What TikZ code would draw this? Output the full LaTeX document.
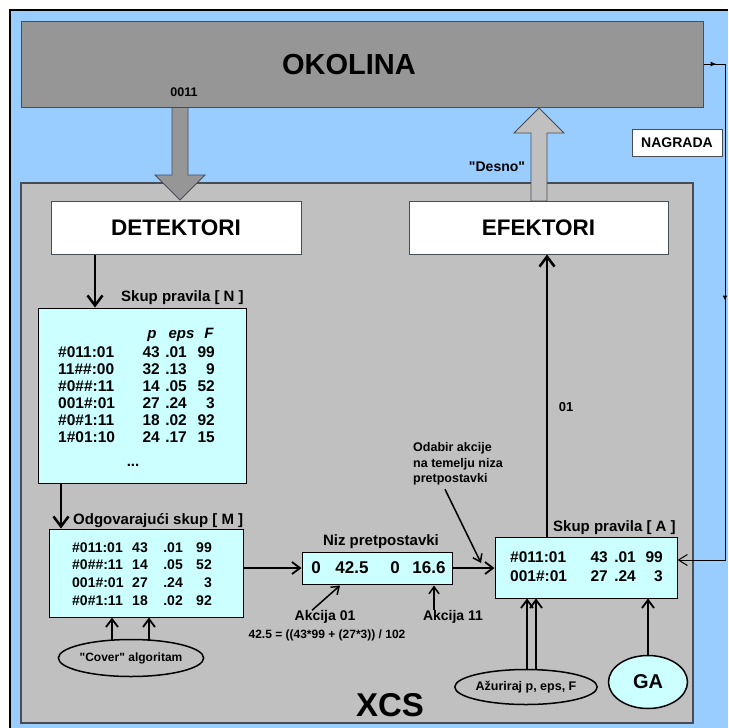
\documentclass[tikz,border=0pt]{standalone}
\usepackage{fontspec}
\setmainfont{Liberation Sans}[Ligatures=TeXOff]
\usetikzlibrary{arrows.meta,decorations.markings,shapes.geometric,calc}
\definecolor{bgblue}{HTML}{99CCFF}
\definecolor{envgray}{HTML}{969696}
\definecolor{xcsgray}{HTML}{C0C0C0}
\definecolor{cyanbox}{HTML}{CCFFFF}
\definecolor{edgegray}{HTML}{474D55}
\tikzset{
  txt/.style={inner sep=0pt, font=\bfseries\fontsize{#1}{#1}\selectfont},
  txt/.default=14,
  txti/.style={inner sep=0pt, font=\bfseries\itshape\fontsize{#1}{#1}\selectfont},
  panel/.style={draw=edgegray, line width=1pt, inner sep=0pt},
  cyanrect/.style={draw=black, fill=cyanbox, line width=1pt, inner sep=0pt},
  oval/.style={ellipse, draw=black, line width=1.5pt, inner sep=0pt},
  arrbig/.style={line width=2.5pt, -{Straight Barb[length=10pt,width=15pt]}},
  arrmid/.style={line width=1.8pt, -{Straight Barb[length=8pt,width=12pt]}},
  arrsmall/.style={line width=1.5pt, -{Straight Barb[length=7pt,width=10pt]}},
}
\begin{document}
\begin{tikzpicture}[x=1pt,y=-1pt]
\fill[white] (0,0) rectangle (728,728);
\useasboundingbox (0,0) rectangle (728,728);
\fill[bgblue] (10,10) rectangle (728,728);
\draw[line width=2pt] (10,728) -- (10,10) -- (728,10);

% environment
\node[panel, fill=envgray, minimum width=682pt, minimum height=86pt] (okolina) at (362,64) {};
\node[txt=29] (okolinaT) at (349,65) {OKOLINA};
\node[txt=12.5] (bits) at (184,92) {0011};

% XCS frame
\node[panel, fill=xcsgray, line width=1.3pt, minimum width=672pt, minimum height=540pt] (xcs) at (357,453) {};
\node[txt=33] (xcsT) at (390,705) {XCS};

% block arrows
\filldraw[fill=envgray, draw=edgegray, line width=0.8pt] (172,107.5) -- (188,107.5) -- (188,175) -- (205,175) -- (180,200) -- (155,175) -- (172,175) -- cycle;
\filldraw[fill=xcsgray, draw=edgegray, line width=0.8pt] (531,201) -- (531,133) -- (514,133) -- (539,108) -- (564,133) -- (547,133) -- (547,201) -- cycle;
\node[txt=14] (desno) at (497,167) {"Desno"};
\node[panel, fill=white, txt=14, minimum width=90pt, minimum height=27pt] (nagrada) at (677,143) {NAGRADA};

% detectors / effectors
\node[panel, fill=white, txt=22.5, minimum width=250pt, minimum height=53pt] (detektori) at (176,227.5) {DETEKTORI};
\node[panel, fill=white, txt=22.5, minimum width=259pt, minimum height=53pt] (efektori) at (538.5,227.5) {EFEKTORI};

% population [N]
\node[cyanrect, minimum width=208pt, minimum height=175pt] (skupN) at (142,395.5) {};
\node[txt=15, anchor=base west] (labN) at (121,301) {Skup pravila [ N ]};
\node[txti=15, anchor=base] (hp) at (152,338) {p};
\node[txti=15, anchor=base] (he) at (181.5,338) {eps};
\node[txti=15, anchor=base] (hf) at (209,338) {F};
\foreach \c/\p/\e/\f [count=\i] in {\#011:01/43/.01/99, 11\#\#:00/32/.13/9, \#0\#\#:11/14/.05/52, 001\#:01/27/.24/3, \#0\#1:11/18/.02/92, 1\#01:10/24/.17/15} {
  \pgfmathsetmacro{\yy}{352+17*(\i-1)+5.5}
  \node[txt=15.5, anchor=base west] (nc\i) at (58,\yy) {\c};
  \node[txt=15.5, anchor=base east] (np\i) at (160,\yy) {\p};
  \node[txt=15.5, anchor=base east] (ne\i) at (187,\yy) {\e};
  \node[txt=15.5, anchor=base east] (nf\i) at (215,\yy) {\f};
}
\node[txt=15] (ndots) at (133,465) {...};

% match set [M]
\node[cyanrect, minimum width=194pt, minimum height=88pt] (skupM) at (146,573) {};
\node[txt=15, anchor=base west] (labM) at (73,524) {Odgovarajući skup [ M ]};
\foreach \c/\p/\e/\f [count=\i] in {\#011:01/43/.01/99, \#0\#\#:11/14/.05/52, 001\#:01/27/.24/3, \#0\#1:11/18/.02/92} {
  \pgfmathsetmacro{\yy}{547+17.7*(\i-1)+5}
  \node[txt=14, anchor=base west] (mc\i) at (72,\yy) {\c};
  \node[txt=14, anchor=base east] (mp\i) at (148,\yy) {\p};
  \node[txt=14, anchor=base east] (me\i) at (183,\yy) {\e};
  \node[txt=14, anchor=base east] (mf\i) at (212,\yy) {\f};
}

% prediction array
\node[cyanrect, minimum width=150pt, minimum height=32pt] (niz) at (377,568) {};
\node[txt=15] (labNiz) at (381,542) {Niz pretpostavki};
\node[txt=17] (v1) at (316,568) {0};
\node[txt=17] (v2) at (352,568) {42.5};
\node[txt=17] (v3) at (395,568) {0};
\node[txt=17] (v4) at (429,568) {16.6};
\node[txt=14] (ak01) at (325,617) {Akcija 01};
\node[txt=14] (ak11) at (453,617) {Akcija 11};
\node[txt=12] (formula) at (327,635) {42.5 = ((43*99 + (27*3)) / 102};

% action set [A]
\node[cyanrect, minimum width=182pt, minimum height=61pt] (skupA) at (586,567.5) {};
\node[txt=15, anchor=base west] (labA) at (553,531) {Skup pravila [ A ]};
\foreach \c/\p/\e/\f [count=\i] in {\#011:01/43/.01/99, 001\#:01/27/.24/3} {
  \pgfmathsetmacro{\yy}{557+19*(\i-1)+5.5}
  \node[txt=15.5, anchor=base west] (ac\i) at (510,\yy) {\c};
  \node[txt=15.5, anchor=base east] (ap\i) at (608,\yy) {\p};
  \node[txt=15.5, anchor=base east] (ae\i) at (636,\yy) {\e};
  \node[txt=15.5, anchor=base east] (af\i) at (663,\yy) {\f};
}

% selection note
\node[txt=12.5, anchor=base west] (od1) at (413,451.5) {Odabir akcije};
\node[txt=12.5, anchor=base west] (od2) at (413,467.5) {na temelju niza};
\node[txt=12.5, anchor=base west] (od3) at (413,482.5) {pretpostavki};
\node[txt=13] (lab01) at (566,407) {01};

% ellipses
\node[oval, txt=12, minimum width=124pt, minimum height=37pt] (cover) at (131,658) {"Cover" algoritam};
\node[oval, txt=12.5, minimum width=128pt, minimum height=35pt] (azur) at (526,687) {Ažuriraj p, eps, F};
\node[oval, fill=cyanbox, txt=20, minimum width=79pt, minimum height=53pt] (ga) at (648,682) {GA};

% connectors
\coordinate (dx) at (95,0);
\draw[arrbig] (detektori.south -| dx) -- (skupN.north -| dx);
\coordinate (mx) at (61,0);
\draw[arrbig] (skupN.south -| mx) -- (skupM.north -| mx);
\coordinate (ex) at (547,0);
\draw[arrbig] (skupA.north -| ex) -- (efektori.south -| ex);
\draw[arrmid] (skupM.east |- niz.west) -- (niz.west);
\draw[arrmid] (niz.east) -- (skupA.west |- niz.east);
\coordinate (a01s) at ($(ak01.north)+(-13,0)$);
\coordinate (a01t) at ($(niz.south)+(-37,1)$);
\draw[arrsmall] (a01s) -- (a01t);
\coordinate (a11t) at ($(niz.south)+(57,1)$);
\draw[arrsmall] (ak11.north -| a11t) -- (a11t);
\coordinate (ods) at ($(od3.south west)+(32,4)$);
\coordinate (odt) at (481,563);
\draw[arrsmall] (ods) -- (odt);
\coordinate (cv1) at ($(cover.north)+(-19,1)$);
\coordinate (cv2) at ($(cover.north)+(18,1)$);
\draw[arrmid] (cv1) -- (cv1 |- skupM.south);
\draw[arrmid] (cv2) -- (cv2 |- skupM.south);
\coordinate (az1) at ($(azur.north)+(1,0)$);
\coordinate (az2) at ($(azur.north)+(10,0.5)$);
\draw[arrmid] (az1) -- (az1 |- skupA.south);
\draw[arrmid] (az2) -- (az2 |- skupA.south);
\draw[arrmid] (ga.north) -- (ga.north |- skupA.south);

% reward loop
\coordinate (rx) at (725,0);
\coordinate (rc1) at (okolina.east -| rx);
\coordinate (rc2) at (725,560);
\draw[line width=1pt,
  decoration={markings,
    mark=at position 13pt with {\arrow{Latex[length=6pt,width=5pt]}},
    mark=at position 258pt with {\arrow{Latex[length=5pt,width=5pt]}}},
  postaction={decorate},
  -{Straight Barb[length=9pt,width=11pt]}]
  (okolina.east) -- (rc1) -- (rc2) -- (rc2 -| skupA.east);
\end{tikzpicture}
\end{document}
